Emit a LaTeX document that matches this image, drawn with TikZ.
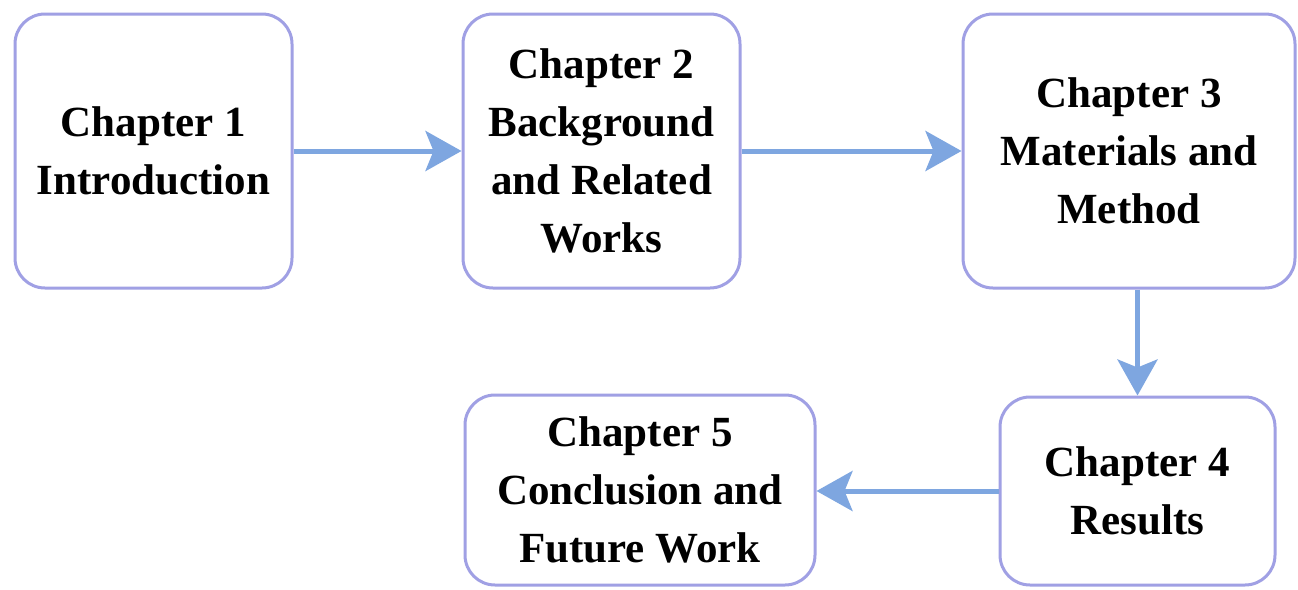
\documentclass[tikz,border=0pt]{standalone}
\usepackage{fontspec}
\setmainfont{Liberation Serif}
\usetikzlibrary{arrows.meta}
\definecolor{boxline}{HTML}{A0A0E4}
\definecolor{arrowblue}{HTML}{7EA6E0}
\begin{document}
\begin{tikzpicture}[x=1pt,y=-1pt,
  chapbox/.style={draw=boxline, line width=3pt, rounded corners=30pt, fill=white,
    align=center, inner sep=0pt, font=\fontsize{43}{58}\selectfont\bfseries},
  flow/.style={draw=arrowblue, line width=5pt,
    -{Stealth[length=36pt, width=40pt, inset=8pt]}}]
\useasboundingbox[fill=white] (0,0) rectangle (1298,589);
\node[chapbox, minimum width=277pt, minimum height=274pt] (b1) at (153.5,151) {Chapter 1\\Introduction};
\node[chapbox, minimum width=277pt, minimum height=274pt] (b2) at (601.5,151) {Chapter 2\\Background\\and Related\\Works};
\node[chapbox, minimum width=332pt, minimum height=274pt] (b3) at (1129,151) {Chapter 3\\Materials and\\Method};
\node[chapbox, minimum width=275pt, minimum height=188pt] (b4) at (1137.5,491) {Chapter 4\\Results};
\node[chapbox, minimum width=350pt, minimum height=190pt] (b5) at (640,490) {Chapter 5\\Conclusion and\\Future Work};
\draw[flow] (b1.east) -- (b2.west);
\draw[flow] (b2.east) -- (b3.west);
\draw[flow] (b3.south -| b4.north) -- (b4.north);
\draw[flow] (b4.west) -- (b4.west -| b5.east);
\end{tikzpicture}
\end{document}
